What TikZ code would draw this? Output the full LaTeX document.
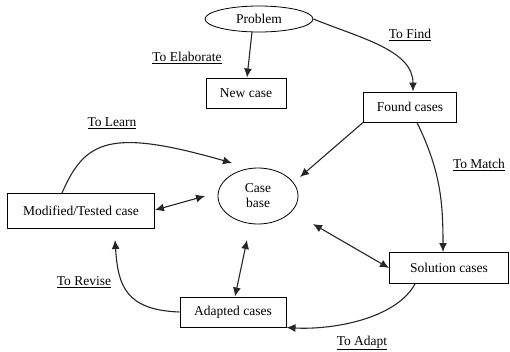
\documentclass[tikz,border=0pt]{standalone}
\usepackage{fontspec}
\setmainfont{Liberation Serif}
\usetikzlibrary{shapes.geometric,arrows.meta}
\begin{document}
\begin{tikzpicture}[x=1pt,y=-1pt,
  box/.style={draw,line width=1pt,rectangle,inner sep=0pt,font=\fontsize{13.5}{15}\selectfont},
  oval/.style={draw,line width=0.8pt,ellipse,inner sep=0pt,align=center,font=\fontsize{13.5}{15}\selectfont},
  lbl/.style={font=\fontsize{13.5}{15}\selectfont,inner sep=0pt},
  conn/.style={line width=1.1pt,draw=black!85,-{Latex[length=9pt,width=8pt]}},
  dconn/.style={line width=1.1pt,draw=black!85,{Latex[length=9pt,width=8pt]}-{Latex[length=9pt,width=8pt]}}]
\useasboundingbox (0,0) rectangle (510,351);
% nodes
\node[oval,minimum width=108pt,minimum height=26pt] (prob) at (259,19) {Problem};
\node[box,minimum width=80pt,minimum height=30pt] (new) at (246,93) {New case};
\node[box,minimum width=93pt,minimum height=30pt] (found) at (410,107) {Found cases};
\node[oval,minimum width=80pt,minimum height=56pt] (cb) at (258,196) {Case\\base};
\node[box,minimum width=147pt,minimum height=35pt] (mod) at (81,211) {Modified/Tested case};
\node[box,minimum width=119pt,minimum height=31pt] (sol) at (449,268) {Solution cases};
\node[box,minimum width=106pt,minimum height=30pt] (adp) at (233,312) {Adapted cases};
% labels
\node[lbl] (lel) at (187,58) {\underline{To Elaborate}};
\node[lbl] (lfind) at (410,35) {\underline{To Find}};
\node[lbl] (llearn) at (112,123) {\underline{To Learn}};
\node[lbl] (lmatch) at (479,165) {\underline{To Match}};
\node[lbl] (lrev) at (84,282) {\underline{To Revise}};
\node[lbl] (ladapt) at (362,343) {\underline{To Adapt}};
% helper coordinates
\coordinate (p1) at (252,32);
\coordinate (cbL) at (205,196);
\coordinate (cbTL) at (232,163);
\coordinate (cbTR) at (300,177);
\coordinate (cbBR) at (313,224);
\coordinate (cbB) at (247,240);
\coordinate (modB) at (115,240);
% connectors
\draw[conn] (p1) -- (new.north -| 247,0);
\draw[conn] (prob.east) .. controls (360,38) and (413,50) .. (found.north -| 413,0);
\draw[conn] (found.south west) -- (cbTR);
\draw[conn] (found.south -| 417,0) .. controls (440,170) and (443,200) .. (sol.north -| 443,0);
\draw[conn] (mod.north -| 62,0) .. controls (85,140) and (110,128) .. (cbTL);
\draw[dconn] (mod.east |- 0,210) -- (cbL);
\draw[dconn] (cbBR) -- (sol.west);
\draw[dconn] (adp.north -| 235,0) -- (cbB);
\draw[conn] (sol.south -| 415,0) .. controls (395,320) and (330,330) .. (adp.south east);
\draw[conn] (adp.west) .. controls (125,310) and (118,285) .. (modB);
\end{tikzpicture}
\end{document}
